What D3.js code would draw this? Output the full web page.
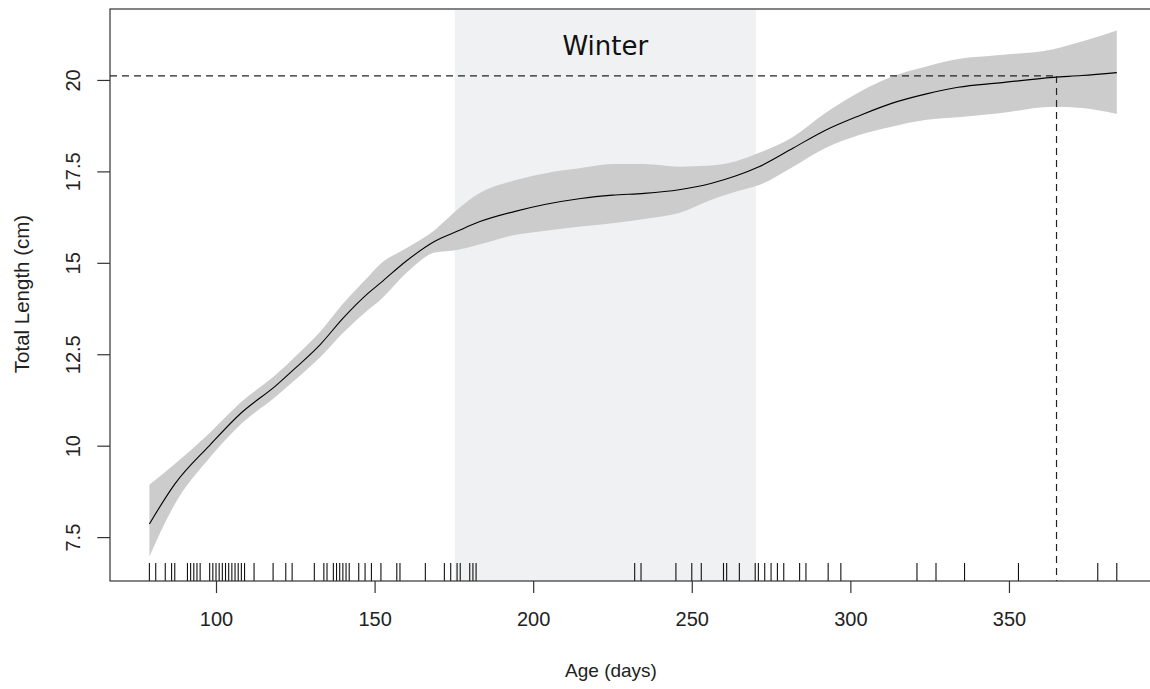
<!DOCTYPE html>
<html><head><meta charset="utf-8">
<script src="https://cdn.jsdelivr.net/npm/d3@7"></script>
<style>body{margin:0;background:#fff}svg{display:block}</style>
</head><body><svg id="c" width="1150" height="689"></svg>
<script>
// ---- data ----
const fitDays  = [79, 87, 98, 108, 119, 125, 133, 140, 148, 152, 160, 169, 176, 183, 194, 204, 215, 225, 235, 246, 256, 264, 271, 282, 292, 303, 313, 324, 334, 347, 364, 373, 384];
const fitMean  = [7.86, 8.95, 10.01, 10.90, 11.65, 12.12, 12.78, 13.48, 14.17, 14.46, 15.05, 15.59, 15.86, 16.12, 16.40, 16.60, 16.76, 16.85, 16.90, 17.00, 17.17, 17.38, 17.62, 18.14, 18.62, 19.03, 19.36, 19.62, 19.80, 19.92, 20.07, 20.12, 20.20];
const fitUpper = [8.93, 9.50, 10.35, 11.20, 11.95, 12.44, 13.13, 13.88, 14.62, 14.98, 15.40, 15.90, 16.45, 16.90, 17.25, 17.45, 17.59, 17.70, 17.70, 17.63, 17.66, 17.78, 18.00, 18.45, 19.09, 19.68, 20.09, 20.37, 20.57, 20.68, 20.84, 21.05, 21.35];
const fitLower = [6.97, 8.40, 9.67, 10.60, 11.35, 11.80, 12.43, 13.08, 13.72, 14.00, 14.72, 15.28, 15.35, 15.50, 15.76, 15.88, 15.99, 16.08, 16.20, 16.36, 16.72, 16.95, 17.12, 17.63, 18.13, 18.50, 18.72, 18.91, 18.98, 19.09, 19.27, 19.23, 19.07];
const rugDays  = [79, 81, 84, 86, 87, 91, 92, 93, 94, 95, 98, 99, 100, 101, 102, 103, 104, 105, 106, 107, 108, 109, 112, 118, 122, 124, 131, 134, 135, 137, 138, 139, 140, 141, 142, 145, 147, 149, 152, 157, 158, 166, 172, 174, 176, 177, 180, 181, 182, 232, 234, 245, 250, 253, 260, 261, 265, 270, 271, 273, 275, 277, 279, 284, 286, 293, 297, 321, 327, 336, 353, 378, 384];
const xTicks   = [100, 150, 200, 250, 300, 350];
const yTicks   = [7.5, 10, 12.5, 15, 17.5, 20];
const yTickLabels = ["7.5", "10", "12.5", "15", "17.5", "20"];
const winterRange = [175.3, 270.2];
const refAge = 365, refLength = 20.11;

// ---- drawing ----
const svg = d3.select("#c");
const x = d3.scaleLinear().domain([66.58, 395.1]).range([110, 1152]);
const y = d3.scaleLinear().domain([6.30, 21.94]).range([581, 9]);
const pts = fitDays.map((d, i) => ({d, m: fitMean[i], lo: fitLower[i], hi: fitUpper[i]}));

// winter shading
svg.append("rect")
  .attr("x", x(winterRange[0])).attr("y", y(21.94) + 1)
  .attr("width", x(winterRange[1]) - x(winterRange[0]))
  .attr("height", y(6.30) - y(21.94) - 1)
  .attr("fill", "#f0f1f3");

svg.append("text").attr("x", (x(winterRange[0]) + x(winterRange[1])) / 2).attr("y", 55)
  .attr("text-anchor", "middle").attr("font-family", "DejaVu Sans").attr("font-size", 26)
  .attr("fill", "#111").text("Winter");

// confidence band
svg.append("path").datum(pts)
  .attr("d", d3.area().x(p => x(p.d)).y0(p => y(p.lo)).y1(p => y(p.hi)).curve(d3.curveMonotoneX))
  .attr("fill", "#cccccc");

// fitted line
svg.append("path").datum(pts)
  .attr("d", d3.line().x(p => x(p.d)).y(p => y(p.m)).curve(d3.curveMonotoneX))
  .attr("fill", "none").attr("stroke", "#000").attr("stroke-width", 1.1);

// reference dashed lines
svg.append("line").attr("x1", x.range()[0]).attr("x2", x(refAge)).attr("y1", y(refLength)).attr("y2", y(refLength))
  .attr("stroke", "#222").attr("stroke-width", 1.2).attr("stroke-dasharray", "7,5");
svg.append("line").attr("x1", x(refAge)).attr("x2", x(refAge)).attr("y1", y(refLength)).attr("y2", y(6.30))
  .attr("stroke", "#222").attr("stroke-width", 1.2).attr("stroke-dasharray", "7,5");

// rug
svg.append("g").selectAll("line").data(rugDays).join("line")
  .attr("x1", d => x(d)).attr("x2", d => x(d)).attr("y1", 563).attr("y2", 581)
  .attr("stroke", "#111").attr("stroke-width", 1.1);

// frame
svg.append("rect").attr("x", 110).attr("y", 9).attr("width", 1042).attr("height", 572)
  .attr("fill", "none").attr("stroke", "#333").attr("stroke-width", 1.2);

// axes
const font = "Liberation Sans, Arial, sans-serif";
const xAxis = svg.append("g").attr("transform", "translate(0,581)")
  .call(d3.axisBottom(x).tickValues(xTicks).tickSize(12).tickPadding(19).tickFormat(d3.format("d")));
xAxis.select(".domain").remove();
xAxis.selectAll("line").attr("stroke", "#333").attr("stroke-width", 1.2);
xAxis.selectAll("text").attr("font-family", font).attr("font-size", 20).attr("fill", "#222");

const yAxis = svg.append("g").attr("transform", "translate(110,0)")
  .call(d3.axisLeft(y).tickValues(yTicks).tickSize(12.7).tickFormat((d, i) => yTickLabels[i]));
yAxis.select(".domain").remove();
yAxis.selectAll("line").attr("stroke", "#333").attr("stroke-width", 1.2);
yAxis.selectAll("text").attr("font-family", font).attr("font-size", 20).attr("fill", "#222")
  .attr("x", null).attr("dy", null).attr("text-anchor", "middle")
  .attr("transform", "translate(-30,0) rotate(-90)");

// axis titles
svg.append("text").attr("x", 611).attr("y", 677).attr("text-anchor", "middle")
  .attr("font-family", font).attr("font-size", 19).attr("fill", "#222").text("Age (days)");
svg.append("text").attr("transform", "translate(29,294) rotate(-90)").attr("text-anchor", "middle")
  .attr("font-family", font).attr("font-size", 20.5).attr("fill", "#222").text("Total Length (cm)");
</script></body></html>
